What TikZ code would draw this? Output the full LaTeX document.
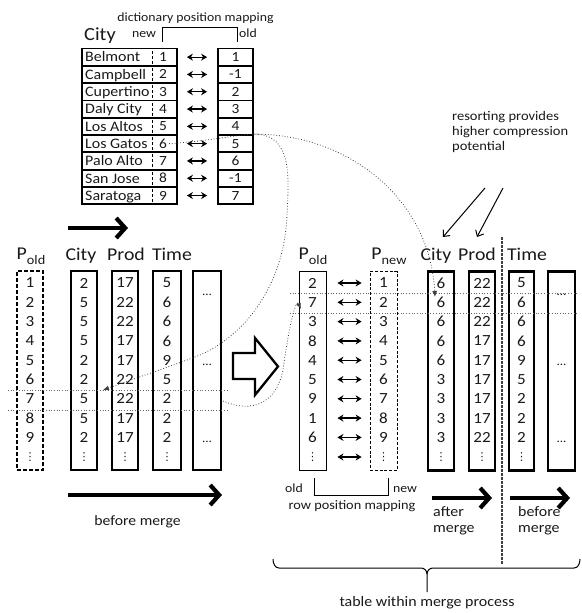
\documentclass[tikz,border=0pt]{standalone}
\usepackage{fontspec}
\setmainfont[FakeStretch=1.1]{Carlito}
\newfontfamily\dejavu{DejaVu Sans}
\usetikzlibrary{arrows.meta,calc}
\newcommand\myfs[1]{\fontsize{#1}{#1}\selectfont}
\newcommand\psub[2]{#1\raisebox{-0.28em}{\myfs{13}#2}}
\newcommand\vdt{{\dejavu\myfs{11}⋮}}
\begin{document}
\begin{tikzpicture}[x=1pt,y=-1pt,
  every node/.style={inner sep=0pt, text=black!90},
  lbl/.style={font=\myfs{12.5}},
  num/.style={font=\myfs{15.5}},
  hdr/.style={font=\myfs{18}},
  thickbox/.style={draw, line width=2.3pt, minimum width=#1, minimum height=199pt},
  dashbox/.style={draw, dash pattern=on 4pt off 2pt, line width=1.4pt, minimum width=#1, minimum height=199pt},
  thinbox/.style={draw, line width=0.9pt, minimum width=#1, minimum height=199pt},
  ndashbox/.style={draw, dash pattern=on 3pt off 1.8pt, line width=0.8pt, minimum width=#1, minimum height=199pt},
  dictbox/.style={draw, line width=1.8pt, minimum width=#1, minimum height=17.3pt},
  dbl/.style={line width=1.3pt, {Stealth[length=6pt,width=7pt]}-{Stealth[length=6pt,width=7pt]}},
  bigarrow/.style={line width=4.2pt, -{Straight Barb[length=9pt,width=20pt]}},
  notearrow/.style={line width=1pt, -{Straight Barb[length=5pt,width=9pt]}},
  dotline/.style={dotted, line width=0.7pt, black!60},
  curve/.style={dotted, line width=0.8pt, black!75, -{Latex[length=6pt,width=5pt]}},
]
\useasboundingbox (0,0) rectangle (581,613);

% ---------- dictionary ----------
\node[lbl, anchor=base] (dictlbl) at (195.5,21) {dictionary position mapping};
\node[font=\myfs{18.5}, anchor=base] (dicttitle) at (100,40) {City};
\node[lbl, anchor=base] (newlbl) at (144,37) {new};
\node[lbl, anchor=base] (oldlbl) at (248,37) {old};
\draw[line width=0.9pt] (162,42) -- (162,27) -- (237,27) -- (237,42);

\foreach \nm/\nw/\ol [count=\i] in {Belmont/1/1, Campbell/2/-1, Cupertino/3/2, Daly City/4/3, Los Altos/5/4, Los Gatos/6/5, Palo Alto/7/6, San Jose/8/-1, Saratoga/9/7} {
  \pgfmathsetmacro\yc{48.5+8.65+(\i-1)*17.3}
  \node[dictbox=95pt] (d\i) at (129.5,\yc) {};
  \node[font=\myfs{14.5}, anchor=base west] (dname\i) at (85,\yc+4.8) {\nm};
  \node[font=\myfs{14}] (dnum\i) at (163,\yc) {\nw};
  \draw[densely dashed, line width=0.8pt] (152,\yc-6.5) -- (152,\yc+6.5);
  \node[dictbox=35pt] (o\i) at (235.5,\yc) {};
  \node[font=\myfs{14}] (onum\i) at (o\i) {\ol};
  \draw[dbl] ([xshift=9pt]d\i.east) -- ([xshift=-10pt]o\i.west);
}
\coordinate (da1) at (68,228);
\coordinate (da2) at (128,228);
\draw[bigarrow] (da1) -- (da2);

% ---------- left table (before merge) ----------
\node[hdr, anchor=base] (lhP) at (31,259) {\psub{P}{old}};
\node[hdr, anchor=base] (lhC) at (81,260) {City};
\node[hdr, anchor=base] (lhPr) at (126,260) {Prod};
\node[hdr, anchor=base] (lhT) at (172,260) {Time};

\node[dashbox=26pt] (LPold) at (30,370.5) {};
\node[thickbox=26pt] (LCity) at (84,370.5) {};
\node[thickbox=26pt] (LProd) at (125,370.5) {};
\node[thickbox=28pt] (LTime) at (167,370.5) {};
\node[thickbox=28pt] (LDots) at (207,370.5) {};

\foreach \a/\b/\c/\d [count=\i] in {1/2/17/5, 2/5/22/6, 3/5/22/6, 4/5/17/6, 5/2/17/9, 6/2/22/5, 7/5/22/2, 8/5/17/2, 9/2/17/2} {
  \pgfmathsetmacro\yr{283+(\i-1)*19.3}
  \node[num] (lp\i) at (30,\yr) {\a};
  \node[num] (lc\i) at (84,\yr) {\b};
  \node[num] (lr\i) at (125,\yr) {\c};
  \node[num] (lt\i) at (167,\yr) {\d};
}
\foreach \n/\x in {lp/30, lc/84, lr/125, lt/167} {
  \node (\n10) at (\x,457) {\vdt};
}
\node[font=\myfs{12}] (ld1) at (207,295) {...};
\node[font=\myfs{12}] (ld2) at (207,365) {...};
\node[font=\myfs{12}] (ld3) at (207,442) {...};

\draw[dotline] (8,390) -- (227,390);
\draw[dotline] (8,410) -- (227,410);

\coordinate (la1) at (68,495);
\coordinate (la2) at (222,495);
\draw[bigarrow] (la1) -- (la2);
\node[font=\myfs{14.3}, anchor=base] (lbm) at (137.5,525) {before merge};

% ---------- hollow arrow ----------
\draw[line width=2.3pt, line join=miter] (233,353) -- (255,353) -- (255,338) -- (278,366.5) -- (255,395) -- (255,379) -- (233,379) -- cycle;

% ---------- right table (within merge) ----------
\node[hdr, anchor=base] (rhP) at (313,259) {\psub{P}{old}};
\node[hdr, anchor=base] (rhN) at (389,259) {\psub{P}{new}};
\node[hdr, anchor=base] (rhC) at (436,260) {City};
\node[hdr, anchor=base] (rhPr) at (477,260) {Prod};
\node[hdr, anchor=base] (rhT) at (527,260) {Time};

\node[thinbox=27pt] (RPold) at (312.5,371) {};
\node[ndashbox=27pt] (RPnew) at (383.5,371) {};
\node[thickbox=26pt] (RCity) at (441,371) {};
\node[thickbox=26pt] (RProd) at (482,371) {};
\node[thickbox=25pt] (RTime) at (521.5,371) {};
\node[thickbox=27pt] (RDots) at (561.5,371) {};

\foreach \a/\b/\c/\d/\e [count=\i] in {2/1/6/22/5, 7/2/6/22/6, 3/3/6/22/6, 8/4/6/17/6, 4/5/6/17/9, 5/6/3/17/5, 9/7/3/17/2, 1/8/3/17/2, 6/9/3/22/2} {
  \pgfmathsetmacro\yr{283+(\i-1)*19.3}
  \node[num] (rp\i) at (312.5,\yr) {\a};
  \node[num] (rn\i) at (383.5,\yr) {\b};
  \node[num] (rc\i) at (441,\yr) {\c};
  \node[num] (rr\i) at (482,\yr) {\d};
  \node[num] (rt\i) at (521.5,\yr) {\e};
}
\foreach \n/\x in {rp/312.5, rn/383.5, rc/441, rr/482, rt/521.5} {
  \node (\n10) at (\x,457) {\vdt};
}
\foreach \i in {1,...,10} {
  \draw[dbl] ($(RPold.east |- rn\i)+(11,0)$) -- ($(RPnew.west |- rn\i)+(-8,0)$);
}
\node[font=\myfs{12}] (rd1) at (561.5,295) {...};
\node[font=\myfs{12}] (rd2) at (561.5,365) {...};
\node[font=\myfs{12}] (rd3) at (561.5,442) {...};

\draw[dotline] (290,293) -- (578,293);
\draw[dotline] (290,313) -- (578,313);

\draw[line width=1.3pt, dash pattern=on 2.5pt off 1.5pt, black!75] (502,237) -- (502,565);

% annotation
\node[font=\myfs{13.2}, anchor=base west, align=left] (note) at (452,150) {resorting provides\\[1.8pt]higher compression\\[1.8pt]potential};
\coordinate (n1a) at (485,188);
\coordinate (n1b) at (443,237);
\coordinate (n2a) at (503,188);
\coordinate (n2b) at (477,237);
\draw[notearrow] (n1a) -- (n1b);
\draw[notearrow] (n2a) -- (n2b);

% row position mapping bracket
\node[lbl, anchor=base] (rold) at (294,492) {old};
\node[lbl, anchor=base] (rnew) at (405,492) {new};
\draw[line width=0.9pt] (314,478) -- (314,495) -- (388,495) -- (388,478);
\node[font=\myfs{13}, anchor=base] (rpm) at (352,509) {row position mapping};

% arrows after/before merge
\coordinate (ra1) at (432,498);
\coordinate (ra2) at (492,498);
\coordinate (rb1) at (510,498);
\coordinate (rb2) at (570,498);
\draw[bigarrow] (ra1) -- (ra2);
\draw[bigarrow] (rb1) -- (rb2);
\node[font=\myfs{14.5}, anchor=base west, align=left] (aftm) at (433,532) {after\\[1.5pt]merge};
\node[font=\myfs{14.5}, anchor=base west, align=left] (befm) at (518,532) {before\\[1.5pt]merge};

% brace
\draw[line width=1pt] (273,559) to[out=-90,in=180] (279,568) -- (421,568) to[out=0,in=90] (427,574) -- (427,592);
\draw[line width=1pt] (427,574) to[out=90,in=180] (433,568) -- (574,568) to[out=0,in=-90] (580,559);
\node[font=\myfs{14.5}, anchor=base] (tmp) at (427,606) {table within merge process};

% ---------- dotted mapping curves ----------
\coordinate (tipA) at (103,390);
\coordinate (tipB) at (435,297);
\coordinate (startC) at (223,401);
\coordinate (tipC) at (301,309);
\draw[curve] ([xshift=2pt]dnum6.east) .. controls (210,141) and (235,135) .. (o6.north east)
  .. controls (292,134) and (289,175) .. (287,215)
  .. controls (284,290) and (240,340) .. (195,357)
  .. controls (160,370) and (125,382) .. (tipA);
\draw[curve] (o6.north east) .. controls (350,134) and (430,200) .. (tipB);
\draw[curve] (startC) .. controls (250,413) and (276,405) .. (283,370)
  .. controls (289,325) and (296,298) .. (tipC);
\end{tikzpicture}
\end{document}
